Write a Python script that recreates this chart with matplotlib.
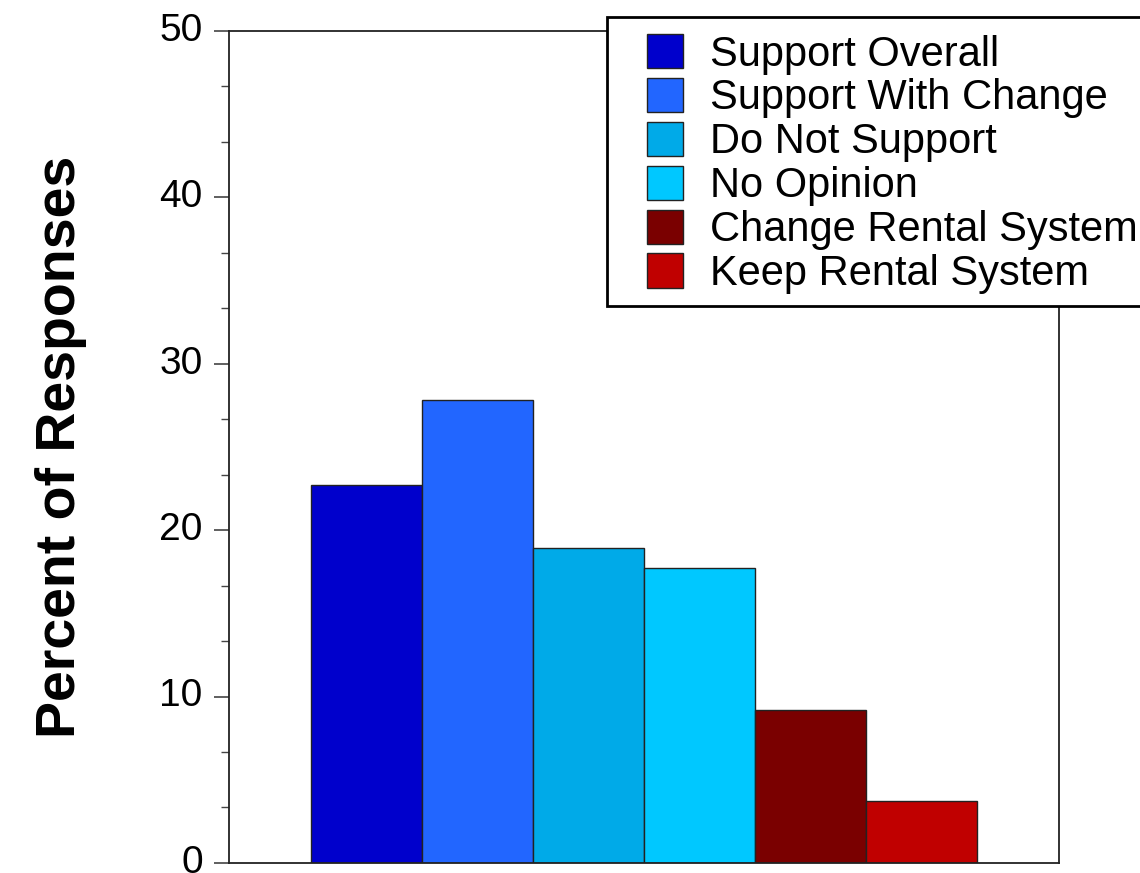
import matplotlib.pyplot as plt
import matplotlib.transforms as mtransforms
from matplotlib.patches import Rectangle
from matplotlib.ticker import MultipleLocator, AutoMinorLocator

plt.rcParams['font.family'] = ['Liberation Sans', 'DejaVu Sans']

labels = ["Support Overall", "Support With Change", "Do Not Support",
          "No Opinion", "Change Rental System", "Keep Rental System"]
percents = [22.7, 27.8, 18.9, 17.7, 9.2, 3.7]
colors = ['#0000cc', '#2266ff', '#00aae8', '#00c8ff', '#7a0000', '#c00000']

fig = plt.figure(figsize=(11.4, 8.73), dpi=100)
ax = fig.add_axes([0.2009, 0.0115, 0.728, 0.953])

for i, (lab, val, col) in enumerate(zip(labels, percents, colors)):
    ax.bar(i, val, width=1.0, color=col, edgecolor='#222222', linewidth=1.0, label=lab)

ax.set_xlim(-1.24, 6.24)
ax.set_ylim(0, 50)
ax.yaxis.set_major_locator(MultipleLocator(10))
ax.yaxis.set_minor_locator(AutoMinorLocator(3))
ax.set_xticks([])
ax.tick_params(axis='y', which='major', length=11, width=1.2, pad=8,
               labelsize=28, color='#444444')
ax.tick_params(axis='y', which='minor', length=6, width=1.0, color='#444444')
for s in ax.spines.values():
    s.set_linewidth(1.3)
    s.set_color('#222222')

# tick numbers sit a little above their ticks in the original
up = mtransforms.ScaledTranslation(0, 3 / 72, fig.dpi_scale_trans)
for t in ax.get_yticklabels():
    t.set_transform(t.get_transform() + up)

ax.set_ylabel("Percent of Responses", fontsize=40, fontweight='bold', labelpad=52)

# legend box runs off the right edge like the original
box = Rectangle((0.5325, 0.6495), 0.5, 0.331, transform=fig.transFigure,
                facecolor='white', edgecolor='black', linewidth=2, zorder=4)
fig.add_artist(box)

leg = fig.legend(loc='upper left', bbox_to_anchor=(0.5675, 0.961), fontsize=30,
                 frameon=False, handlelength=0.87, handleheight=0.89,
                 handletextpad=0.65, labelspacing=0.08, borderpad=0,
                 borderaxespad=0)
leg.set_zorder(5)

fig.savefig("out.png", dpi=100)
